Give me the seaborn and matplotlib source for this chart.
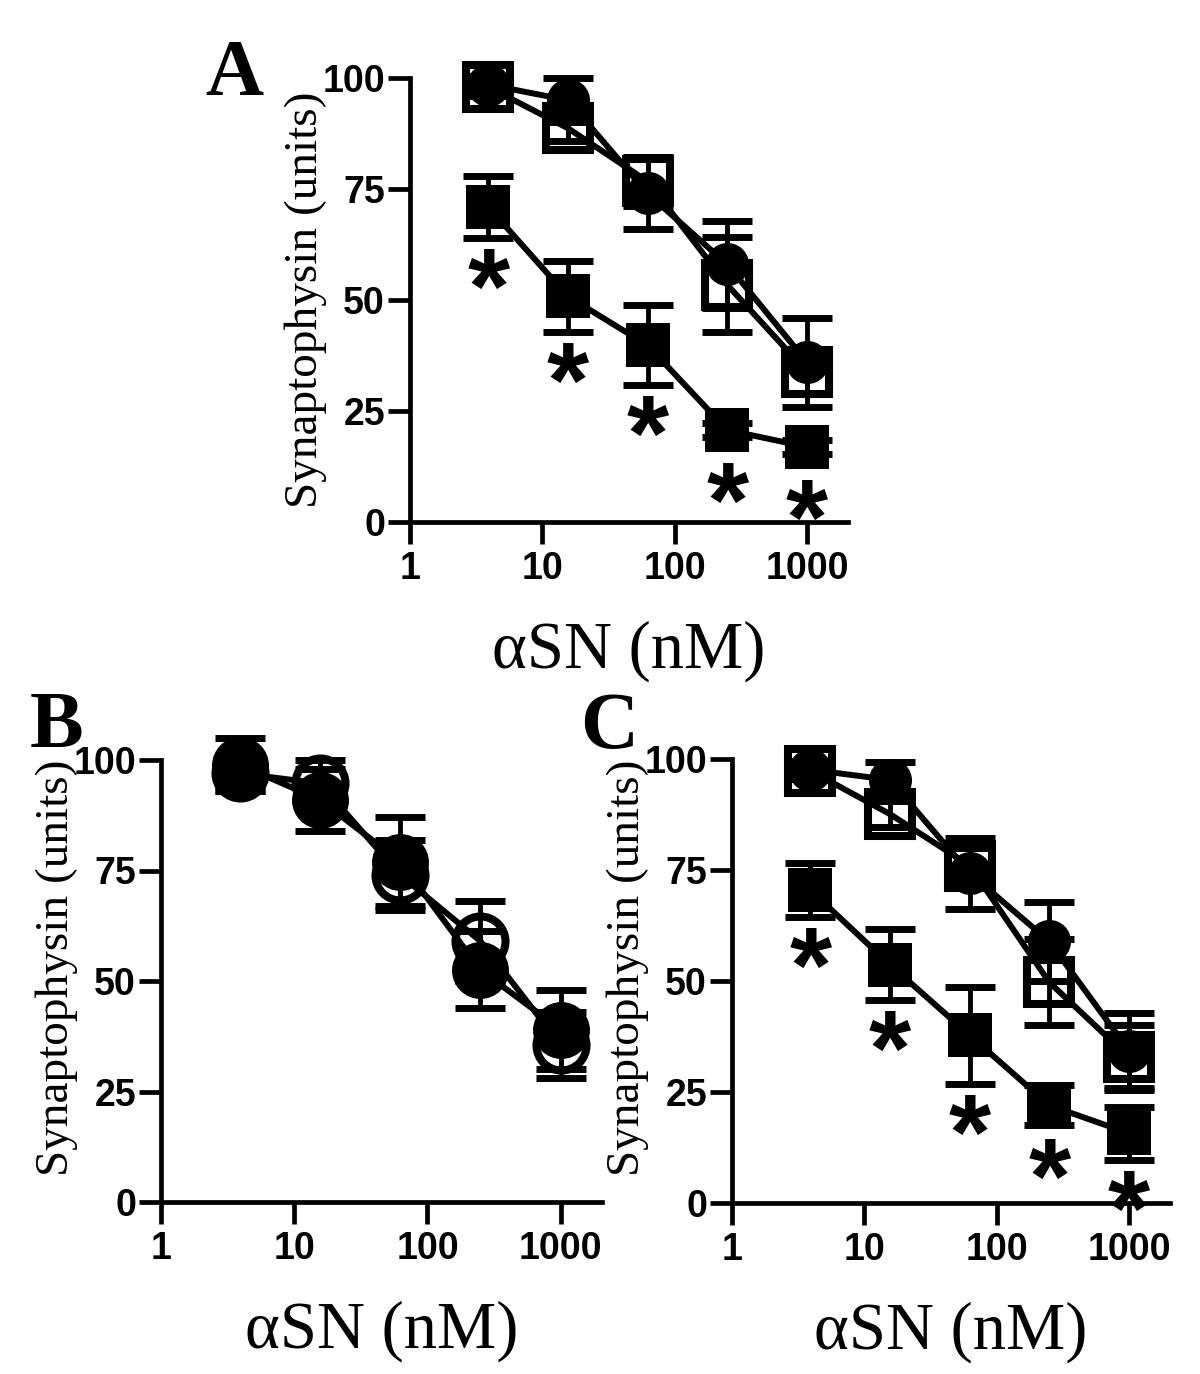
import numpy as np
import pandas as pd
import seaborn as sns
import matplotlib
matplotlib.use("Agg")
import matplotlib.pyplot as plt
from matplotlib.ticker import NullLocator

# aSN concentrations (nM), 4-fold dilution series
conc = [3.9, 15.6, 62.5, 250, 1000]

# panel A
a_circle = [98.5, 95, 74, 58, 36]
a_circle_err = [2, 5, 8, 9.7, 10]
a_open_sq = [98, 88.7, 76.7, 53.4, 33.8]
a_open_sq_err = [2, 3, 5.5, 10.7, 5]
a_filled_sq = [71, 50.8, 39.8, 20.7, 16.9]
a_filled_sq_err = [7, 7.9, 9, 1.5, 1.5]

# panel B
b_circle = [98.9, 91, 77, 52.5, 39]
b_circle_err = [6, 7, 10, 8.7, 9]
b_open_circle = [97, 94.7, 74, 59, 35.5]
b_open_circle_err = [4, 5.3, 8, 9, 7.5]

# panel C
c_circle = [97.6, 95.3, 74.3, 58.9, 34.3]
c_circle_err = [2, 4, 8, 9, 8.5]
c_open_sq = [97.4, 87.6, 76, 49.7, 32.8]
c_open_sq_err = [2, 3, 4, 9.7, 7.3]
c_filled_sq = [70.5, 53.7, 37.8, 22, 15.7]
c_filled_sq_err = [6, 8, 10.9, 4.5, 6]

x_ticks = [1, 10, 100, 1000]
x_ticklabels = ['1', '10', '100', '1000']
y_ticks = [0, 25, 50, 75, 100]
y_ticklabels = ['0', '25', '50', '75', '100']

ylabel = 'Synaptophysin (units)'
xlabel = '\u03b1SN (nM)'

sns.set_style("ticks")
plt.rcParams['font.family'] = ['Liberation Sans', 'DejaVu Sans']
plt.rcParams['font.weight'] = 'bold'
for k in ['text.color', 'axes.labelcolor', 'xtick.color', 'ytick.color',
          'axes.edgecolor']:
    plt.rcParams[k] = 'black'

SERIF = ['Liberation Serif', 'DejaVu Serif']

## marker styles
filled_circle = dict(marker='o', markersize=31, mfc='black', mec='black', mew=0)
big_circle = dict(marker='o', markersize=41, mfc='black', mec='black', mew=0)
open_circle = dict(marker='o', markersize=36, mfc='none', mec='black', mew=5.8)
open_square = dict(marker='s', markersize=32, mfc='none', mec='black', mew=5.8)
filled_square = dict(marker='s', markersize=32, mfc='black', mec='black', mew=0)


def draw_series(ax, y, err, style, stars=False):
    ax.errorbar(conc, y, yerr=err, fmt='none', ecolor='black', elinewidth=3.5,
                capsize=18, capthick=5, clip_on=False, zorder=3)
    sns.lineplot(x=conc, y=y, ax=ax, color='black', lw=4.3, clip_on=False,
                 zorder=4, **style)
    if stars:
        # asterisk just under the lower error bar / marker
        for xi, yi, ei in zip(conc, y, err):
            top = min(yi - ei, yi - 5) - 1.6
            ax.text(xi, top, '*', ha='center', va='top', fontsize=78,
                    fontweight='bold', color='black', zorder=5)


def style_axes(ax, ylab_y=0.5):
    ax.set_xscale('log')
    ax.set_xlim(1, 10 ** 3.31)
    ax.set_ylim(0, 100)
    ax.set_xticks(x_ticks)
    ax.set_xticklabels(x_ticklabels)
    ax.set_yticks(y_ticks)
    ax.set_yticklabels(y_ticklabels)
    ax.xaxis.set_minor_locator(NullLocator())
    sns.despine(ax=ax)
    for s in ['left', 'bottom']:
        ax.spines[s].set_linewidth(3.4)
    ax.tick_params(axis='both', which='major', length=16, width=3.4,
                   direction='out', labelsize=27, color='black')
    ax.tick_params(axis='y', pad=2)
    ax.tick_params(axis='x', pad=5)
    ax.set_xlabel(xlabel, family=SERIF, fontweight='normal', fontsize=48, va='top')
    ax.set_ylabel(ylabel, family=SERIF, fontweight='normal', fontsize=34, va='center')
    ax.xaxis.set_label_coords(0.5, -0.222)
    ax.yaxis.set_label_coords(-0.237, ylab_y)
    ax.set_facecolor('white')


fig = plt.figure(figsize=(12, 13.74), dpi=100)
fig.patch.set_facecolor('white')

axA = fig.add_axes([410 / 1200, 1 - 522 / 1374, 438 / 1200, 444 / 1374])
axB = fig.add_axes([161 / 1200, 1 - 1202 / 1374, 441 / 1200, 442 / 1374])
axC = fig.add_axes([732 / 1200, 1 - 1203 / 1374, 438 / 1200, 444 / 1374])

# A
draw_series(axA, a_circle, a_circle_err, filled_circle)
draw_series(axA, a_open_sq, a_open_sq_err, open_square)
draw_series(axA, a_filled_sq, a_filled_sq_err, filled_square, stars=True)
style_axes(axA)

# B
draw_series(axB, b_circle, b_circle_err, big_circle)
draw_series(axB, b_open_circle, b_open_circle_err, open_circle)
style_axes(axB, ylab_y=0.53)

# C
draw_series(axC, c_circle, c_circle_err, filled_circle)
draw_series(axC, c_open_sq, c_open_sq_err, open_square)
draw_series(axC, c_filled_sq, c_filled_sq_err, filled_square, stars=True)
style_axes(axC, ylab_y=0.53)

for lab, px, py in [('A', 205, 95), ('B', 30, 747), ('C', 580, 748)]:
    fig.text(px / 1200, 1 - py / 1374, lab, ha='left', va='baseline',
             family=SERIF, fontweight='bold', fontsize=58, color='black')

plt.savefig('out.png', dpi=100, facecolor='white')
